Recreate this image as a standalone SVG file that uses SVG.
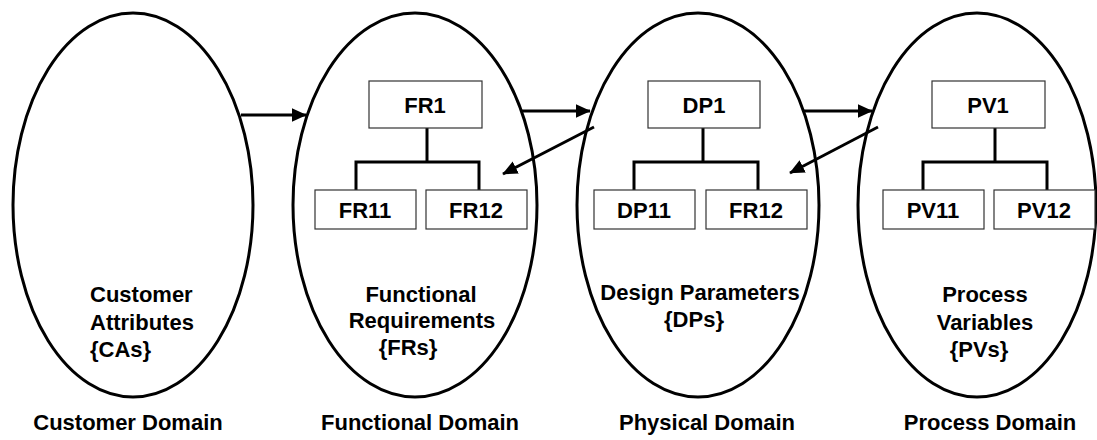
<svg xmlns="http://www.w3.org/2000/svg" width="1097" height="440" viewBox="0 0 1097 440">
  <defs>
    <marker id="arrow" viewBox="0 0 10 10" refX="9.5" refY="5" markerWidth="5.2" markerHeight="5.2" orient="auto" markerUnits="strokeWidth">
      <path d="M0,0.5 L10,5 L0,9.5 z" fill="#000"/>
    </marker>
  </defs>
  <style>
    .domain { fill: none; stroke: #000; stroke-width: 3; }
    .box { fill: #fff; stroke: #333; stroke-width: 1.2; }
    .tree { fill: none; stroke: #000; stroke-width: 3; }
    .conn { fill: none; stroke: #000; stroke-width: 2.9; marker-end: url(#arrow); }
    text { font-family: "Liberation Sans", Arial, sans-serif; font-size: 22px; font-weight: bold; fill: #000; }
    .c { text-anchor: middle; }
  </style>
  <rect width="1097" height="440" fill="#fff"/>

  <!-- Customer domain -->
  <g id="customer-domain">
    <ellipse class="domain" cx="133" cy="205" rx="120" ry="192"/>
    <text x="90" y="302">Customer</text>
    <text x="90" y="330">Attributes</text>
    <text x="90" y="357">{CAs}</text>
    <text class="c" x="128" y="430">Customer Domain</text>
  </g>

  <!-- Functional domain -->
  <g id="functional-domain">
    <ellipse class="domain" cx="415" cy="205" rx="122" ry="192"/>
    <polyline class="tree" points="427,128 427,162"/>
    <polyline class="tree" points="356,190 356,162 479,162 479,190"/>
    <rect class="box" x="369" y="81" width="113" height="47"/>
    <text class="c" x="425" y="113">FR1</text>
    <rect class="box" x="315" y="190" width="101" height="39"/>
    <text class="c" x="365" y="218">FR11</text>
    <rect class="box" x="426" y="190" width="101" height="39"/>
    <text class="c" x="476" y="218">FR12</text>
    <text class="c" x="421" y="302">Functional</text>
    <text class="c" x="422" y="328">Requirements</text>
    <text class="c" x="408" y="355">{FRs}</text>
    <text class="c" x="420" y="430">Functional Domain</text>
  </g>

  <!-- Physical domain -->
  <g id="physical-domain">
    <ellipse class="domain" cx="698" cy="205" rx="121" ry="192"/>
    <polyline class="tree" points="703,128 703,162"/>
    <polyline class="tree" points="634,190 634,162 758,162 758,190"/>
    <rect class="box" x="648" y="81" width="112" height="47"/>
    <text class="c" x="704" y="113">DP1</text>
    <rect class="box" x="594" y="190" width="101" height="39"/>
    <text class="c" x="644" y="218">DP11</text>
    <rect class="box" x="706" y="190" width="101" height="39"/>
    <text class="c" x="756" y="218">FR12</text>
    <text class="c" x="700" y="300">Design Parameters</text>
    <text class="c" x="694" y="327">{DPs}</text>
    <text class="c" x="707" y="430">Physical Domain</text>
  </g>

  <!-- Process domain -->
  <g id="process-domain">
    <ellipse class="domain" cx="977" cy="205" rx="119" ry="192"/>
    <polyline class="tree" points="995,128 995,162"/>
    <polyline class="tree" points="923,190 923,162 1047,162 1047,190"/>
    <rect class="box" x="932" y="81" width="113" height="47"/>
    <text class="c" x="988" y="113">PV1</text>
    <rect class="box" x="883" y="190" width="101" height="39"/>
    <text class="c" x="933" y="218">PV11</text>
    <rect class="box" x="994" y="190" width="101" height="39"/>
    <text class="c" x="1044" y="218">PV12</text>
    <text class="c" x="985" y="302">Process</text>
    <text class="c" x="985" y="330">Variables</text>
    <text class="c" x="979" y="357">{PVs}</text>
    <text class="c" x="990" y="430">Process Domain</text>
  </g>

  <!-- Mappings between domains -->
  <g id="connectors">
    <line class="conn" x1="241" y1="115" x2="306" y2="115"/>
    <line class="conn" x1="522" y1="111" x2="590" y2="111"/>
    <line class="conn" x1="804" y1="111" x2="872" y2="111"/>
    <line class="conn" x1="594" y1="127" x2="503" y2="174"/>
    <line class="conn" x1="878" y1="127" x2="790" y2="173"/>
  </g>
</svg>
